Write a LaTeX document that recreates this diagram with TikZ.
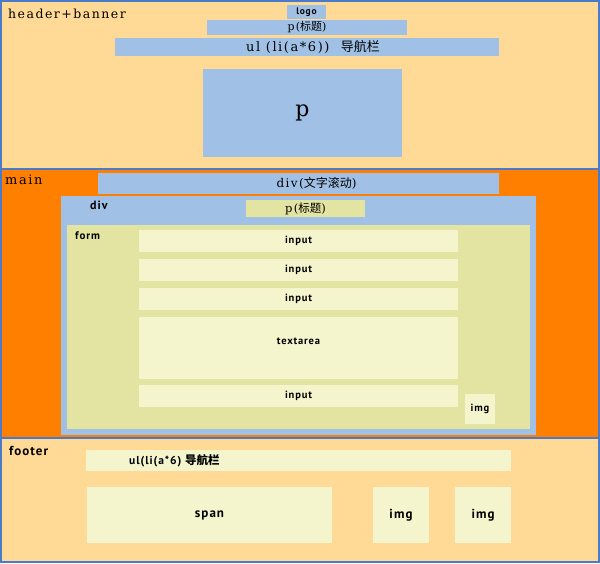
\documentclass[tikz,border=0pt]{standalone}
\usepackage{fontspec}
\newfontfamily\wideserif[LetterSpace=12]{DejaVu Serif}
\newfontfamily\widesans[LetterSpace=8]{PT Sans}
\newfontfamily\cjk{Noto Sans CJK SC}
\definecolor{frame}{HTML}{4A7BCB}
\definecolor{sand}{HTML}{FFD996}
\definecolor{sky}{HTML}{A0C1E5}
\definecolor{tangerine}{HTML}{FF8000}
\definecolor{khaki}{HTML}{E3E4A1}
\definecolor{cream}{HTML}{F4F5CD}

\begin{document}
\begin{tikzpicture}
  [x=1pt,y=-1pt,
   cell/.style 2 args={rectangle,anchor=north west,inner sep=0pt,outer sep=0pt,
                       minimum width=#1,minimum height=#2},
   serif/.style={font=\wideserif\fontsize{#1}{#1}\selectfont,inner sep=0pt},
   sans/.style={font=\widesans\bfseries\fontsize{#1}{#1}\selectfont,inner sep=0pt}
  ]
  \useasboundingbox (0,0) rectangle (600,563);
  \fill[frame] (0,0) rectangle (600,563);

  % header
  \node[cell={596pt}{166pt},fill=sand] (header) at (2,2) {};
  \node[serif=12.5,anchor=west] (headerlbl) at (8,14) {header+banner};
  \node[cell={39pt}{14pt},fill=sky,sans=9.5] (logo) at (287,5) {logo};
  \node[cell={200pt}{15pt},fill=sky,serif=11] (htitle) at (207,20) {p({\cjk 标题})};
  \node[cell={384pt}{18pt},fill=sky] (hnav) at (115,38) {};
  \node[serif=13] (hnavtxt) at ([xshift=6pt]hnav.center) {ul (li(a*6)) \ {\cjk 导航栏}};
  \node[cell={199pt}{88pt},fill=sky,serif=22] (banner) at (203,69) {p};

  % main
  \node[cell={596pt}{267pt},fill=tangerine] (main) at (2,170) {};
  \node[serif=13,anchor=west] (mainlbl) at (5,180) {main};
  \node[cell={401pt}{21pt},fill=sky] (scroll) at (98,173) {};
  \node[serif=12] (scrolltxt) at ([xshift=18pt]scroll.center) {div({\cjk 文字滚动})};

  \node[cell={475pt}{239pt},fill=sky] (div) at (61,196) {};
  \node[sans=12,anchor=west] (divlbl) at (90,205) {div};
  \node[cell={119pt}{17pt},fill=khaki,serif=11.5] (dtitle) at (246,200) {p({\cjk 标题})};

  \node[cell={463pt}{204pt},fill=khaki] (form) at (67,225) {};
  \node[sans=11,anchor=west] (formlbl) at (75,236) {form};
  \foreach \y/\n in {230/inA,259/inB,288/inC,385/inD}
    \node[cell={319pt}{22pt},fill=cream,sans=10.5] (\n) at (139,\y) {input};
  \node[cell={319pt}{62pt},fill=cream] (textarea) at (139,317) {};
  \node[sans=10.5] (textareatxt) at ([yshift=-24pt]textarea.north) {textarea};
  \node[cell={30pt}{30pt},fill=cream,sans=10.5] (formimg) at (465,394) {img};

  % footer
  \node[cell={596pt}{122pt},fill=sand] (footer) at (2,439) {};
  \node[sans=13,anchor=west] (footerlbl) at (9,451) {footer};
  \node[cell={425pt}{21pt},fill=cream] (fnav) at (86,450) {};
  \node[sans=11.5,anchor=west] (fnavtxt) at (129,461) {ul(li(a*6) {\cjk 导航栏}};
  \node[cell={245pt}{56pt},fill=cream,sans=13] (span) at (87,487) {span};
  \node[cell={56pt}{56pt},fill=cream,sans=13] (imgA) at (373,487) {img};
  \node[cell={56pt}{56pt},fill=cream,sans=13] (imgB) at (455,487) {img};
\end{tikzpicture}
\end{document}
